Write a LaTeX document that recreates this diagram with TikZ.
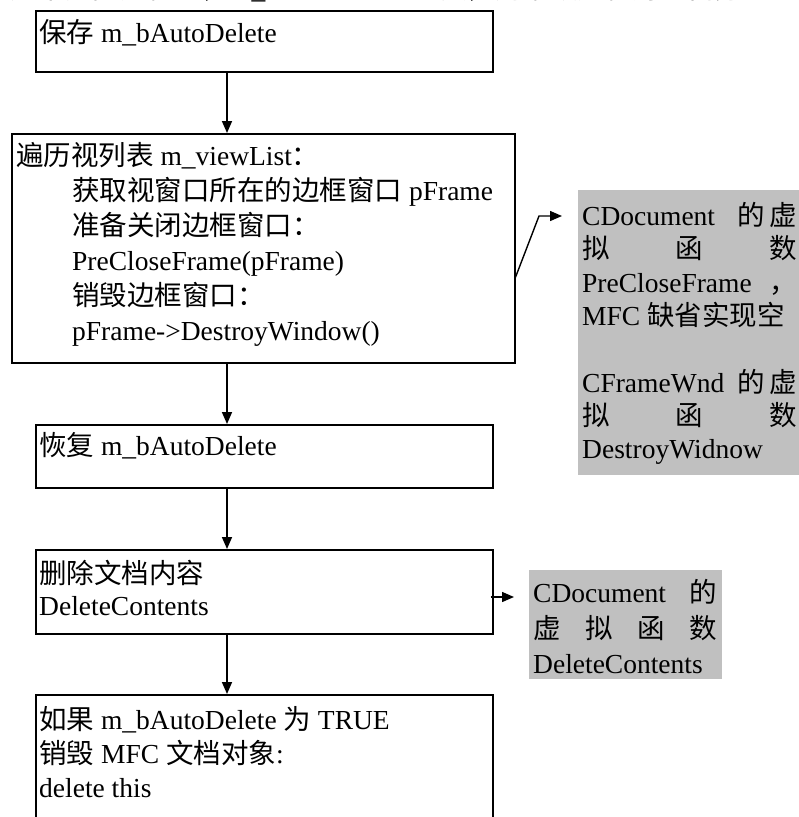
\documentclass[tikz,border=0pt]{standalone}
\usepackage{fontspec}
\setmainfont{Liberation Serif}
\newfontfamily\cjk{Noto Sans CJK SC}
\usetikzlibrary{arrows.meta}
\newcommand\zh[1]{{\cjk #1}}
\definecolor{sidegray}{RGB}{192,192,192}
\tikzset{
  box/.style={draw, line width=1.6pt, inner sep=0pt, anchor=north west},
  sidebox/.style={fill=sidegray, draw=none, inner sep=0pt, anchor=north west},
  txt/.style={anchor=base west, inner sep=0pt, font=\fontsize{27.5}{33}\selectfont},
  flow/.style={line width=1.6pt, -{Triangle[length=12pt,width=10pt]}},
}
\begin{document}
\begin{tikzpicture}[x=1pt,y=-1pt]
\clip (0,0) rectangle (799,817);
\useasboundingbox (0,0) rectangle (799,817);

% partially visible heading line (cut by the top edge, as in the reference)
\node[txt] (head) at (10,-1.5) {\zh{如果关闭文档时，}m\_bAutoDelete \zh{为真，则销毁文档对象自身。}};

% main boxes
\node[box, minimum width=457pt, minimum height=61pt]  (b1) at (35,10)  {};
\node[box, minimum width=503pt, minimum height=229pt] (b2) at (11,133) {};
\node[box, minimum width=457pt, minimum height=63pt]  (b3) at (35,424) {};
\node[box, minimum width=457pt, minimum height=84pt]  (b4) at (35,549) {};
\node[box, minimum width=457pt, minimum height=150pt] (b5) at (35,694) {};

% side notes
\node[sidebox, minimum width=221pt, minimum height=285pt] (s1) at (578,190) {};
\node[sidebox, minimum width=193pt, minimum height=109pt] (s2) at (529,570) {};

% box texts
\node[txt] (t1) at (39,42) {\zh{保存} m\_bAutoDelete};

\node[txt] (t2a) at (16,165) {\zh{遍历视列表} m\_viewList\zh{：}};
\node[txt] (t2b) at (72,200) {\zh{获取视窗口所在的边框窗口} pFrame};
\node[txt] (t2c) at (72,235) {\zh{准备关闭边框窗口：}};
\node[txt] (t2d) at (72,270) {PreCloseFrame(pFrame)};
\node[txt] (t2e) at (72,305) {\zh{销毁边框窗口：}};
\node[txt] (t2f) at (72,340) {pFrame->DestroyWindow()};

\node[txt] (t3) at (39,455) {\zh{恢复} m\_bAutoDelete};

\node[txt] (t4a) at (39,583) {\zh{删除文档内容}};
\node[txt] (t4b) at (39,615) {DeleteContents};

\node[txt] (t5a) at (39,729) {\zh{如果} m\_bAutoDelete \zh{为} TRUE};
\node[txt] (t5b) at (39,763) {\zh{销毁} MFC \zh{文档对象}:};
\node[txt] (t5c) at (39,797) {delete this};

% side note texts
\node[txt] (n1a) at (582,225) {\makebox[215pt][s]{CDocument\hfill\zh{的}\hspace{5pt}\zh{虚}}};
\node[txt] (n1b) at (582,258) {\makebox[215pt][s]{\zh{拟}\hfill\zh{函}\hfill\zh{数}}};
\node[txt] (n1c) at (582,292) {\makebox[215pt][s]{PreCloseFrame\hfill\zh{，}}};
\node[txt] (n1d) at (582,325) {MFC \zh{缺省实现空}};
\node[txt] (n1e) at (582,392) {\makebox[215pt][s]{CFrameWnd\hfill\zh{的}\hspace{5pt}\zh{虚}}};
\node[txt] (n1f) at (582,425) {\makebox[215pt][s]{\zh{拟}\hfill\zh{函}\hfill\zh{数}}};
\node[txt] (n1g) at (582,458) {DestroyWidnow};

\node[txt] (n2a) at (533,602) {\makebox[184pt][s]{CDocument\hfill\zh{的}}};
\node[txt] (n2b) at (533,638) {\makebox[184pt][s]{\zh{虚}\hfill\zh{拟}\hfill\zh{函}\hfill\zh{数}}};
\node[txt] (n2c) at (533,673) {DeleteContents};

% flow arrows
\draw[flow] ([xshift=192pt]b1.south west) -- ([xshift=192pt]b1.south west |- b2.north);
\draw[flow] ([xshift=216pt]b2.south west) -- ([xshift=216pt]b2.south west |- b3.north);
\draw[flow] ([xshift=192pt]b3.south west) -- ([xshift=192pt]b3.south west |- b4.north);
\draw[flow] ([xshift=192pt]b4.south west) -- ([xshift=192pt]b4.south west |- b5.north);

% note connectors
\coordinate (k1) at (539,216);
\coordinate (c1) at (0,277);
\coordinate (c2) at (0,597);
\draw[flow, line width=1.4pt] (b2.east |- c1) -- (k1) -- ([xshift=-16pt]s1.west |- k1);
\draw[flow, line width=1.4pt] ([xshift=-3pt]b4.east |- c2) -- ([xshift=-15pt]s2.west |- c2);
\end{tikzpicture}
\end{document}
